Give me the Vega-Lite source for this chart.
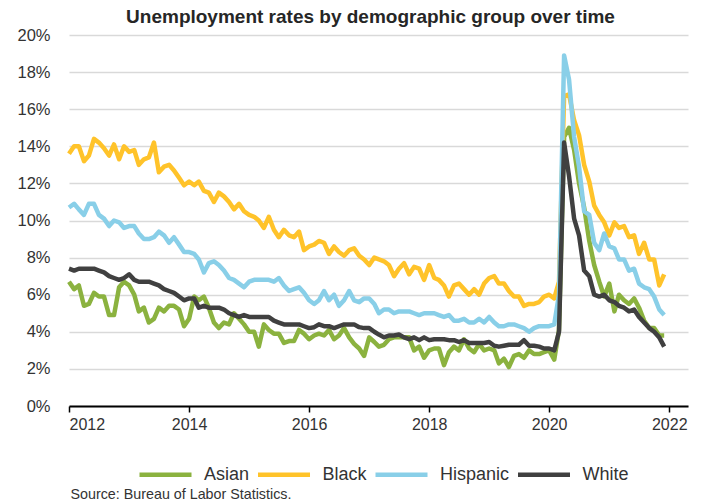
{
  "$schema": "https://vega.github.io/schema/vega-lite/v6.json",
  "width": 619,
  "height": 371,
  "autosize": {"type": "none"},
  "padding": {"left": 69, "top": 35, "right": 21, "bottom": 95},
  "background": "#ffffff",
  "title": {
    "text": "Unemployment rates by demographic group over time",
    "font": "Liberation Sans",
    "fontSize": 19,
    "fontWeight": "bold",
    "color": "#262626",
    "anchor": "middle",
    "frame": "group",
    "dx": -8,
    "offset": 0
  },
  "config": {
    "view": {"stroke": null},
    "font": "Liberation Sans"
  },
  "data": {
    "values": [
      {"d":"2012-01-01","Asian":6.7,"Black":13.6,"Hispanic":10.7,"White":7.4},
      {"d":"2012-02-01","Asian":6.3,"Black":14.0,"Hispanic":10.9,"White":7.3},
      {"d":"2012-03-01","Asian":6.5,"Black":14.0,"Hispanic":10.6,"White":7.4},
      {"d":"2012-04-01","Asian":5.4,"Black":13.2,"Hispanic":10.3,"White":7.4},
      {"d":"2012-05-01","Asian":5.5,"Black":13.5,"Hispanic":10.9,"White":7.4},
      {"d":"2012-06-01","Asian":6.1,"Black":14.4,"Hispanic":10.9,"White":7.4},
      {"d":"2012-07-01","Asian":5.9,"Black":14.2,"Hispanic":10.3,"White":7.3},
      {"d":"2012-08-01","Asian":5.9,"Black":13.9,"Hispanic":10.1,"White":7.2},
      {"d":"2012-09-01","Asian":4.9,"Black":13.5,"Hispanic":9.7,"White":7.0},
      {"d":"2012-10-01","Asian":4.9,"Black":14.1,"Hispanic":10.0,"White":6.9},
      {"d":"2012-11-01","Asian":6.4,"Black":13.3,"Hispanic":9.9,"White":6.8},
      {"d":"2012-12-01","Asian":6.7,"Black":14.0,"Hispanic":9.6,"White":6.9},
      {"d":"2013-01-01","Asian":6.5,"Black":13.7,"Hispanic":9.7,"White":7.1},
      {"d":"2013-02-01","Asian":6.0,"Black":13.8,"Hispanic":9.7,"White":6.8},
      {"d":"2013-03-01","Asian":5.1,"Black":13.0,"Hispanic":9.3,"White":6.7},
      {"d":"2013-04-01","Asian":5.3,"Black":13.3,"Hispanic":9.0,"White":6.7},
      {"d":"2013-05-01","Asian":4.5,"Black":13.4,"Hispanic":9.0,"White":6.7},
      {"d":"2013-06-01","Asian":4.7,"Black":14.2,"Hispanic":9.1,"White":6.6},
      {"d":"2013-07-01","Asian":5.3,"Black":12.6,"Hispanic":9.4,"White":6.5},
      {"d":"2013-08-01","Asian":5.1,"Black":12.9,"Hispanic":9.2,"White":6.3},
      {"d":"2013-09-01","Asian":5.4,"Black":13.0,"Hispanic":8.8,"White":6.2},
      {"d":"2013-10-01","Asian":5.4,"Black":12.7,"Hispanic":9.1,"White":6.1},
      {"d":"2013-11-01","Asian":5.2,"Black":12.3,"Hispanic":8.7,"White":5.9},
      {"d":"2013-12-01","Asian":4.3,"Black":11.9,"Hispanic":8.3,"White":5.7},
      {"d":"2014-01-01","Asian":4.7,"Black":12.1,"Hispanic":8.3,"White":5.8},
      {"d":"2014-02-01","Asian":5.9,"Black":11.9,"Hispanic":8.2,"White":5.8},
      {"d":"2014-03-01","Asian":5.7,"Black":12.1,"Hispanic":7.9,"White":5.3},
      {"d":"2014-04-01","Asian":5.9,"Black":11.6,"Hispanic":7.2,"White":5.4},
      {"d":"2014-05-01","Asian":5.3,"Black":11.5,"Hispanic":7.7,"White":5.3},
      {"d":"2014-06-01","Asian":4.5,"Black":11.0,"Hispanic":7.8,"White":5.3},
      {"d":"2014-07-01","Asian":4.2,"Black":11.5,"Hispanic":7.6,"White":5.3},
      {"d":"2014-08-01","Asian":4.5,"Black":11.3,"Hispanic":7.3,"White":5.2},
      {"d":"2014-09-01","Asian":4.4,"Black":11.0,"Hispanic":6.9,"White":5.0},
      {"d":"2014-10-01","Asian":5.0,"Black":10.6,"Hispanic":6.8,"White":4.9},
      {"d":"2014-11-01","Asian":4.7,"Black":10.9,"Hispanic":6.6,"White":4.8},
      {"d":"2014-12-01","Asian":4.4,"Black":10.5,"Hispanic":6.4,"White":4.9},
      {"d":"2015-01-01","Asian":4.0,"Black":10.3,"Hispanic":6.7,"White":4.8},
      {"d":"2015-02-01","Asian":4.0,"Black":10.2,"Hispanic":6.8,"White":4.8},
      {"d":"2015-03-01","Asian":3.2,"Black":10.0,"Hispanic":6.8,"White":4.8},
      {"d":"2015-04-01","Asian":4.4,"Black":9.6,"Hispanic":6.8,"White":4.8},
      {"d":"2015-05-01","Asian":4.1,"Black":10.2,"Hispanic":6.8,"White":4.8},
      {"d":"2015-06-01","Asian":3.9,"Black":9.5,"Hispanic":6.7,"White":4.6},
      {"d":"2015-07-01","Asian":3.9,"Black":9.1,"Hispanic":6.9,"White":4.5},
      {"d":"2015-08-01","Asian":3.4,"Black":9.5,"Hispanic":6.5,"White":4.4},
      {"d":"2015-09-01","Asian":3.5,"Black":9.2,"Hispanic":6.2,"White":4.4},
      {"d":"2015-10-01","Asian":3.5,"Black":9.1,"Hispanic":6.3,"White":4.4},
      {"d":"2015-11-01","Asian":4.1,"Black":9.4,"Hispanic":6.4,"White":4.4},
      {"d":"2015-12-01","Asian":3.9,"Black":8.4,"Hispanic":6.1,"White":4.3},
      {"d":"2016-01-01","Asian":3.6,"Black":8.6,"Hispanic":5.7,"White":4.2},
      {"d":"2016-02-01","Asian":3.8,"Black":8.7,"Hispanic":5.5,"White":4.25},
      {"d":"2016-03-01","Asian":3.9,"Black":8.9,"Hispanic":5.7,"White":4.4},
      {"d":"2016-04-01","Asian":3.8,"Black":8.8,"Hispanic":6.2,"White":4.3},
      {"d":"2016-05-01","Asian":4.1,"Black":8.2,"Hispanic":5.7,"White":4.3},
      {"d":"2016-06-01","Asian":3.6,"Black":8.6,"Hispanic":6.0,"White":4.2},
      {"d":"2016-07-01","Asian":3.8,"Black":8.3,"Hispanic":5.4,"White":4.3},
      {"d":"2016-08-01","Asian":4.2,"Black":8.1,"Hispanic":5.7,"White":4.4},
      {"d":"2016-09-01","Asian":3.7,"Black":8.4,"Hispanic":6.2,"White":4.4},
      {"d":"2016-10-01","Asian":3.35,"Black":8.5,"Hispanic":5.7,"White":4.4},
      {"d":"2016-11-01","Asian":3.1,"Black":8.1,"Hispanic":5.6,"White":4.25},
      {"d":"2016-12-01","Asian":2.7,"Black":7.9,"Hispanic":5.8,"White":4.2},
      {"d":"2017-01-01","Asian":3.7,"Black":7.6,"Hispanic":5.8,"White":4.2},
      {"d":"2017-02-01","Asian":3.45,"Black":8.0,"Hispanic":5.5,"White":4.0},
      {"d":"2017-03-01","Asian":3.2,"Black":7.9,"Hispanic":5.0,"White":3.85},
      {"d":"2017-04-01","Asian":3.3,"Black":7.8,"Hispanic":5.2,"White":3.7},
      {"d":"2017-05-01","Asian":3.6,"Black":7.6,"Hispanic":5.2,"White":3.8},
      {"d":"2017-06-01","Asian":3.7,"Black":7.0,"Hispanic":5.0,"White":3.8},
      {"d":"2017-07-01","Asian":3.7,"Black":7.4,"Hispanic":5.1,"White":3.85},
      {"d":"2017-08-01","Asian":3.7,"Black":7.7,"Hispanic":5.1,"White":3.7},
      {"d":"2017-09-01","Asian":3.7,"Black":7.1,"Hispanic":5.1,"White":3.6},
      {"d":"2017-10-01","Asian":3.0,"Black":7.5,"Hispanic":5.0,"White":3.7},
      {"d":"2017-11-01","Asian":3.2,"Black":7.4,"Hispanic":4.9,"White":3.55},
      {"d":"2017-12-01","Asian":2.6,"Black":6.8,"Hispanic":5.0,"White":3.7},
      {"d":"2018-01-01","Asian":3.0,"Black":7.6,"Hispanic":5.0,"White":3.55},
      {"d":"2018-02-01","Asian":3.1,"Black":6.9,"Hispanic":5.0,"White":3.6},
      {"d":"2018-03-01","Asian":3.1,"Black":6.8,"Hispanic":4.9,"White":3.6},
      {"d":"2018-04-01","Asian":2.2,"Black":6.5,"Hispanic":4.8,"White":3.6},
      {"d":"2018-05-01","Asian":2.9,"Black":5.9,"Hispanic":4.9,"White":3.55},
      {"d":"2018-06-01","Asian":3.2,"Black":6.5,"Hispanic":4.6,"White":3.55},
      {"d":"2018-07-01","Asian":3.0,"Black":6.6,"Hispanic":4.6,"White":3.45},
      {"d":"2018-08-01","Asian":3.6,"Black":6.3,"Hispanic":4.7,"White":3.55},
      {"d":"2018-09-01","Asian":3.1,"Black":6.0,"Hispanic":4.5,"White":3.4},
      {"d":"2018-10-01","Asian":2.9,"Black":6.3,"Hispanic":4.5,"White":3.4},
      {"d":"2018-11-01","Asian":3.35,"Black":6.0,"Hispanic":4.7,"White":3.4},
      {"d":"2018-12-01","Asian":3.0,"Black":6.6,"Hispanic":4.5,"White":3.4},
      {"d":"2019-01-01","Asian":3.1,"Black":6.9,"Hispanic":4.8,"White":3.45},
      {"d":"2019-02-01","Asian":3.0,"Black":7.0,"Hispanic":4.5,"White":3.25},
      {"d":"2019-03-01","Asian":2.3,"Black":6.6,"Hispanic":4.3,"White":3.2},
      {"d":"2019-04-01","Asian":2.55,"Black":6.6,"Hispanic":4.3,"White":3.25},
      {"d":"2019-05-01","Asian":2.1,"Black":6.2,"Hispanic":4.4,"White":3.3},
      {"d":"2019-06-01","Asian":2.7,"Black":5.9,"Hispanic":4.4,"White":3.3},
      {"d":"2019-07-01","Asian":2.8,"Black":5.9,"Hispanic":4.3,"White":3.3},
      {"d":"2019-08-01","Asian":2.6,"Black":5.4,"Hispanic":4.2,"White":3.55},
      {"d":"2019-09-01","Asian":3.0,"Black":5.5,"Hispanic":4.0,"White":3.25},
      {"d":"2019-10-01","Asian":2.8,"Black":5.5,"Hispanic":4.2,"White":3.25},
      {"d":"2019-11-01","Asian":2.8,"Black":5.6,"Hispanic":4.3,"White":3.2},
      {"d":"2019-12-01","Asian":2.9,"Black":5.9,"Hispanic":4.3,"White":3.1},
      {"d":"2020-01-01","Asian":3.0,"Black":6.0,"Hispanic":4.3,"White":3.1},
      {"d":"2020-02-01","Asian":2.5,"Black":5.8,"Hispanic":4.4,"White":3.0},
      {"d":"2020-03-01","Asian":4.1,"Black":6.7,"Hispanic":6.0,"White":4.0},
      {"d":"2020-04-01","Asian":14.5,"Black":16.7,"Hispanic":18.9,"White":14.2},
      {"d":"2020-05-01","Asian":15.0,"Black":16.8,"Hispanic":17.6,"White":12.4},
      {"d":"2020-06-01","Asian":13.8,"Black":15.4,"Hispanic":14.5,"White":10.1},
      {"d":"2020-07-01","Asian":12.0,"Black":14.6,"Hispanic":12.9,"White":9.2},
      {"d":"2020-08-01","Asian":10.7,"Black":13.0,"Hispanic":10.5,"White":7.3},
      {"d":"2020-09-01","Asian":8.9,"Black":12.1,"Hispanic":10.3,"White":7.0},
      {"d":"2020-10-01","Asian":7.6,"Black":10.8,"Hispanic":8.8,"White":6.0},
      {"d":"2020-11-01","Asian":6.7,"Black":10.3,"Hispanic":8.4,"White":5.9},
      {"d":"2020-12-01","Asian":5.9,"Black":9.9,"Hispanic":9.3,"White":6.0},
      {"d":"2021-01-01","Asian":6.6,"Black":9.2,"Hispanic":8.6,"White":5.7},
      {"d":"2021-02-01","Asian":5.1,"Black":9.9,"Hispanic":8.5,"White":5.6},
      {"d":"2021-03-01","Asian":6.0,"Black":9.6,"Hispanic":7.9,"White":5.4},
      {"d":"2021-04-01","Asian":5.7,"Black":9.7,"Hispanic":7.9,"White":5.3},
      {"d":"2021-05-01","Asian":5.5,"Black":9.1,"Hispanic":7.3,"White":5.1},
      {"d":"2021-06-01","Asian":5.8,"Black":9.2,"Hispanic":7.4,"White":5.2},
      {"d":"2021-07-01","Asian":5.3,"Black":8.2,"Hispanic":6.6,"White":4.8},
      {"d":"2021-08-01","Asian":4.6,"Black":8.8,"Hispanic":6.4,"White":4.5},
      {"d":"2021-09-01","Asian":4.2,"Black":7.9,"Hispanic":6.3,"White":4.2},
      {"d":"2021-10-01","Asian":4.2,"Black":7.9,"Hispanic":5.9,"White":4.0},
      {"d":"2021-11-01","Asian":3.8,"Black":6.5,"Hispanic":5.2,"White":3.7},
      {"d":"2021-12-01","Asian":3.8,"Black":7.1,"Hispanic":4.9,"White":3.2}
    ]
  },
  "transform": [
    {"fold": ["Asian", "Black", "Hispanic", "White"], "as": ["group", "rate"]}
  ],
  "mark": {"type": "line", "strokeWidth": 4.5, "strokeJoin": "round", "strokeCap": "butt", "clip": false},
  "encoding": {
    "x": {
      "field": "d",
      "type": "temporal",
      "scale": {"domain": [{"year": 2012, "month": 1, "date": 1}, {"year": 2022, "month": 4, "date": 25}]},
      "axis": {
        "values": [{"year": 2012}, {"year": 2014}, {"year": 2016}, {"year": 2018}, {"year": 2020}, {"year": 2022}],
        "format": "%Y",
        "grid": false,
        "domainColor": "#000000",
        "domainWidth": 2,
        "tickColor": "#000000",
        "tickWidth": 1.5,
        "tickSize": 6,
        "labelFont": "Liberation Sans",
        "labelFontSize": 16,
        "labelColor": "#333333",
        "labelPadding": 4,
        "title": "Source: Bureau of Labor Statistics.",
        "titleFont": "Liberation Sans",
        "titleFontSize": 14.3,
        "titleFontWeight": "normal",
        "titleColor": "#333333",
        "titleAnchor": "start",
        "titleAlign": "left",
        "titleBaseline": "alphabetic",
        "titleX": 1,
        "titleY": 92
      }
    },
    "y": {
      "field": "rate",
      "type": "quantitative",
      "scale": {"domain": [0, 20], "nice": false, "zero": true},
      "axis": {
        "values": [0, 2, 4, 6, 8, 10, 12, 14, 16, 18, 20],
        "labelExpr": "datum.value + '%'",
        "grid": true,
        "gridColor": "#d9d9d9",
        "gridWidth": 1.5,
        "domain": false,
        "ticks": false,
        "labelFont": "Liberation Sans",
        "labelFontSize": 16.5,
        "labelColor": "#333333",
        "labelPadding": 19,
        "title": null
      }
    },
    "color": {
      "field": "group",
      "type": "nominal",
      "scale": {
        "domain": ["Asian", "Black", "Hispanic", "White"],
        "range": ["#8bb23f", "#ffc32a", "#89cfe8", "#404040"]
      },
      "legend": {
        "orient": "none",
        "legendX": 68,
        "legendY": 411,
        "direction": "horizontal",
        "title": null,
        "symbolType": "stroke",
        "symbolSize": 2704,
        "symbolStrokeWidth": 4.5,
        "labelFont": "Liberation Sans",
        "labelFontSize": 18,
        "labelColor": "#333333",
        "labelOffset": 10,
        "columnPadding": -1.5,
        "padding": 0
      }
    }
  }
}
